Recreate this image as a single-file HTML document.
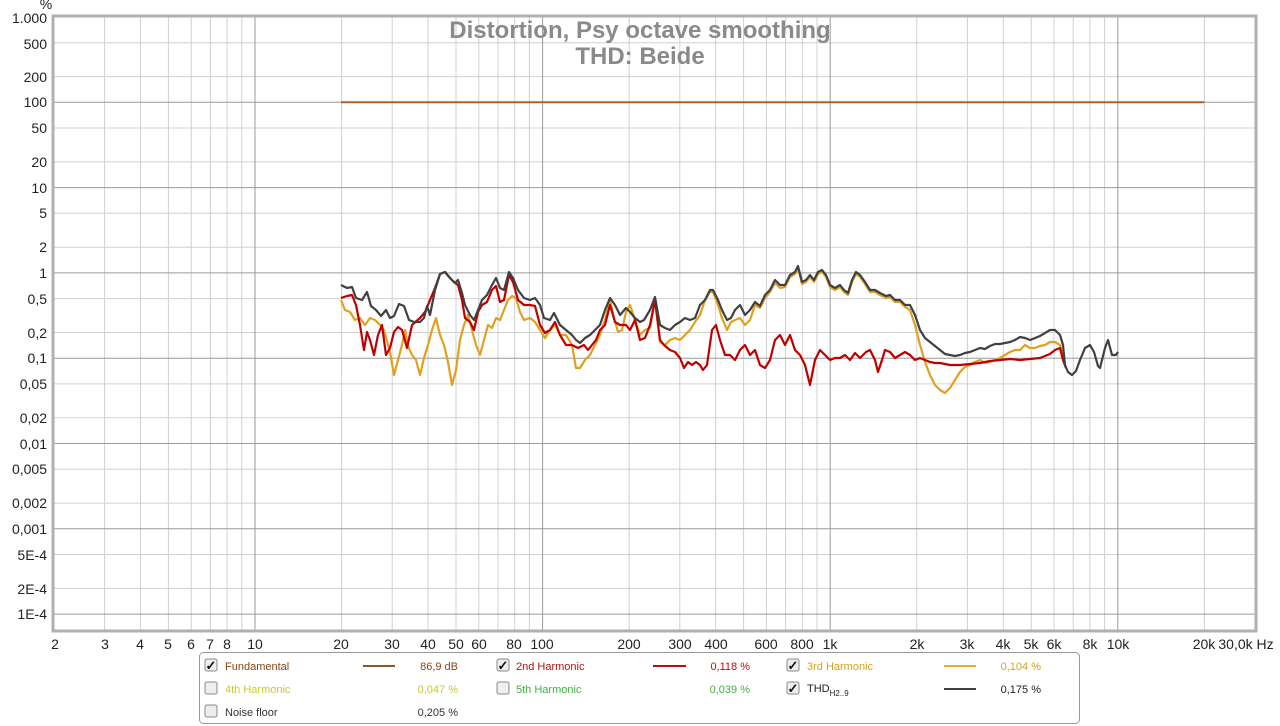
<!DOCTYPE html>
<html><head><meta charset="utf-8"><style>
html,body{margin:0;padding:0;background:#fff;}
svg{display:block;font-family:"Liberation Sans",Arial,sans-serif;}
</style></head><body>
<svg width="1280" height="726" viewBox="0 0 1280 726" xmlns="http://www.w3.org/2000/svg">
<rect width="1280" height="726" fill="#fff"/>
<g stroke="#d0d0d0" stroke-width="1">
<line x1="104.6" y1="17" x2="104.6" y2="630"/><line x1="140.5" y1="17" x2="140.5" y2="630"/><line x1="168.4" y1="17" x2="168.4" y2="630"/><line x1="191.2" y1="17" x2="191.2" y2="630"/><line x1="210.4" y1="17" x2="210.4" y2="630"/><line x1="227.1" y1="17" x2="227.1" y2="630"/><line x1="241.8" y1="17" x2="241.8" y2="630"/>
<line x1="341.6" y1="17" x2="341.6" y2="630"/><line x1="392.2" y1="17" x2="392.2" y2="630"/><line x1="428.1" y1="17" x2="428.1" y2="630"/><line x1="456" y1="17" x2="456" y2="630"/><line x1="478.8" y1="17" x2="478.8" y2="630"/><line x1="498" y1="17" x2="498" y2="630"/><line x1="514.7" y1="17" x2="514.7" y2="630"/><line x1="529.4" y1="17" x2="529.4" y2="630"/>
<line x1="629.2" y1="17" x2="629.2" y2="630"/><line x1="679.8" y1="17" x2="679.8" y2="630"/><line x1="715.7" y1="17" x2="715.7" y2="630"/><line x1="743.6" y1="17" x2="743.6" y2="630"/><line x1="766.4" y1="17" x2="766.4" y2="630"/><line x1="785.6" y1="17" x2="785.6" y2="630"/><line x1="802.3" y1="17" x2="802.3" y2="630"/><line x1="817" y1="17" x2="817" y2="630"/>
<line x1="916.8" y1="17" x2="916.8" y2="630"/><line x1="967.4" y1="17" x2="967.4" y2="630"/><line x1="1003.3" y1="17" x2="1003.3" y2="630"/><line x1="1031.2" y1="17" x2="1031.2" y2="630"/><line x1="1054" y1="17" x2="1054" y2="630"/><line x1="1073.2" y1="17" x2="1073.2" y2="630"/><line x1="1089.9" y1="17" x2="1089.9" y2="630"/><line x1="1104.6" y1="17" x2="1104.6" y2="630"/>
<line x1="1204.4" y1="17" x2="1204.4" y2="630"/>
<line x1="54" y1="42.7" x2="1255" y2="42.7"/><line x1="54" y1="76.6" x2="1255" y2="76.6"/>
<line x1="54" y1="128" x2="1255" y2="128"/><line x1="54" y1="161.9" x2="1255" y2="161.9"/>
<line x1="54" y1="213.3" x2="1255" y2="213.3"/><line x1="54" y1="247.2" x2="1255" y2="247.2"/>
<line x1="54" y1="298.6" x2="1255" y2="298.6"/><line x1="54" y1="332.5" x2="1255" y2="332.5"/>
<line x1="54" y1="383.9" x2="1255" y2="383.9"/><line x1="54" y1="417.8" x2="1255" y2="417.8"/>
<line x1="54" y1="469.2" x2="1255" y2="469.2"/><line x1="54" y1="503.1" x2="1255" y2="503.1"/>
<line x1="54" y1="554.5" x2="1255" y2="554.5"/><line x1="54" y1="588.4" x2="1255" y2="588.4"/>
</g>
<g stroke="#9a9a9a" stroke-width="1">
<line x1="255" y1="17" x2="255" y2="630"/><line x1="542.6" y1="17" x2="542.6" y2="630"/><line x1="830.2" y1="17" x2="830.2" y2="630"/><line x1="1117.8" y1="17" x2="1117.8" y2="630"/>
<line x1="54" y1="102.3" x2="1255" y2="102.3"/><line x1="54" y1="187.6" x2="1255" y2="187.6"/><line x1="54" y1="272.9" x2="1255" y2="272.9"/><line x1="54" y1="358.2" x2="1255" y2="358.2"/><line x1="54" y1="443.5" x2="1255" y2="443.5"/><line x1="54" y1="528.8" x2="1255" y2="528.8"/><line x1="54" y1="614.1" x2="1255" y2="614.1"/>
</g>
<rect x="53" y="16" width="1203" height="615" fill="none" stroke="#b0b0b0" stroke-width="3"/>
<text x="640" y="38" text-anchor="middle" font-size="24" font-weight="bold" fill="#8a8a8a">Distortion, Psy octave smoothing</text>
<text x="640" y="64" text-anchor="middle" font-size="24" font-weight="bold" fill="#8a8a8a">THD: Beide</text>
<g font-size="14" fill="#222" text-anchor="end">
<text x="46" y="9" text-anchor="middle">%</text>
<text x="47" y="23">1.000</text><text x="47" y="49">500</text><text x="47" y="82">200</text><text x="47" y="107">100</text>
<text x="47" y="133">50</text><text x="47" y="167">20</text><text x="47" y="193">10</text>
<text x="47" y="218">5</text><text x="47" y="252">2</text><text x="47" y="278">1</text>
<text x="47" y="304">0,5</text><text x="47" y="338">0,2</text><text x="47" y="363">0,1</text>
<text x="47" y="389">0,05</text><text x="47" y="423">0,02</text><text x="47" y="449">0,01</text>
<text x="47" y="474">0,005</text><text x="47" y="508">0,002</text><text x="47" y="534">0,001</text>
<text x="47" y="560">5E-4</text><text x="47" y="594">2E-4</text><text x="47" y="619">1E-4</text>
</g>
<g font-size="14" fill="#222" text-anchor="middle">
<text x="55" y="649">2</text><text x="105" y="649">3</text><text x="140" y="649">4</text><text x="168" y="649">5</text><text x="191" y="649">6</text><text x="210" y="649">7</text><text x="227" y="649">8</text><text x="255" y="649">10</text>
<text x="341" y="649">20</text><text x="392" y="649">30</text><text x="428" y="649">40</text><text x="456" y="649">50</text><text x="479" y="649">60</text><text x="514" y="649">80</text><text x="542" y="649">100</text>
<text x="629" y="649">200</text><text x="680" y="649">300</text><text x="716" y="649">400</text><text x="766" y="649">600</text><text x="802" y="649">800</text><text x="830" y="649">1k</text>
<text x="917" y="649">2k</text><text x="967" y="649">3k</text><text x="1003" y="649">4k</text><text x="1031" y="649">5k</text><text x="1054" y="649">6k</text><text x="1090" y="649">8k</text><text x="1118" y="649">10k</text>
<text x="1204" y="649">20k</text><text x="1246" y="649">30,0k Hz</text>
</g>
<line x1="341" y1="102.3" x2="1204" y2="102.3" stroke="#b0602a" stroke-width="2"/>
<g fill="none" stroke-width="2.2" stroke-linejoin="round">
<polyline stroke="#e0a020" points="341,300 345,310 350,312 355,320 360,318 365,325 370,318 375,320 380,325 384,330 390,352 394,375 398,360 402,345 405,330 408,346 412,355 416,360 420,375 424,358 428,345 432,330 436,318 440,335 444,345 448,362 452,385 456,370 460,340 464,325 468,315 472,330 476,345 480,355 484,340 488,325 492,328 496,318 500,320 504,310 508,300 512,296 516,298 520,312 524,320 530,318 535,322 540,330 545,338 550,330 555,325 560,335 566,335 572,345 576,368 580,368 585,360 590,355 595,345 600,335 605,320 610,300 614,318 618,332 622,330 626,312 630,305 635,320 640,335 645,330 650,328 655,300 660,342 665,345 670,340 675,338 680,340 685,335 690,330 695,322 700,315 705,300 710,292 713,292 718,305 722,318 727,330 731,322 735,320 740,318 745,325 750,320 755,305 760,308 765,298 770,292 775,283 780,288 785,287 790,277 795,274 798,268 802,284 806,282 810,277 814,282 818,274 822,272 826,277 830,287 835,290 840,287 844,292 848,295 852,282 856,274 860,277 865,284 870,292 875,292 880,295 886,298 890,297 895,302 900,302 905,307 910,310 915,325 920,345 925,362 930,375 935,385 940,390 945,393 950,388 955,380 960,372 965,367 970,365 975,362 980,360 985,363 990,362 995,360 1000,358 1005,355 1010,352 1015,350 1020,350 1025,345 1030,348 1035,348 1040,346 1045,345 1050,342 1055,342 1060,345 1063,355"/>
<polyline stroke="#c00000" points="341,298 347,296 352,295 356,305 360,325 364,350 367,332 370,340 374,355 378,335 382,325 386,355 390,348 394,332 398,327 402,330 407,348 412,325 420,318 425,312 430,300 435,288 440,274 445,272 450,278 455,283 458,285 462,300 465,318 470,322 474,330 478,312 482,305 487,302 492,290 496,286 500,302 504,300 509,275 513,282 518,300 524,305 530,305 535,306 540,325 545,333 550,330 555,322 560,335 566,345 572,345 578,348 584,345 588,350 592,345 596,340 600,330 605,325 610,305 615,322 620,325 626,325 630,330 635,320 640,340 645,338 650,325 655,300 660,340 664,345 670,350 675,352 680,358 684,368 688,362 692,365 696,362 700,365 703,370 707,365 712,330 716,325 720,340 725,355 730,355 735,360 740,350 745,345 750,355 755,350 760,365 765,368 770,360 775,340 780,335 785,345 790,335 795,350 800,355 805,365 810,385 815,360 820,350 825,355 830,360 835,358 840,358 845,355 850,360 855,353 860,358 866,352 870,350 875,360 878,372 882,360 885,350 890,352 895,358 900,355 905,352 910,355 915,360 920,358 925,360 930,362 935,363 940,363 950,365 960,365 970,364 980,363 990,361 1000,360 1010,359 1020,360 1030,359 1040,358 1050,354 1055,350 1060,348 1063,360 1066,368"/>
<polyline stroke="#404040" points="341,285 347,288 352,287 356,298 362,300 367,292 371,306 376,310 381,316 386,310 390,318 394,316 399,304 404,306 409,320 414,322 420,322 424,318 427,306 430,315 435,290 440,274 445,272 450,278 455,283 458,280 462,293 465,305 470,315 474,320 478,310 482,300 487,295 492,285 496,278 500,288 504,290 509,272 513,278 518,290 524,298 530,300 535,298 540,305 544,318 550,320 554,313 560,325 566,330 572,335 576,340 580,343 585,338 590,335 595,330 600,325 605,310 610,298 615,305 620,315 626,308 630,312 635,318 640,322 644,320 650,310 655,297 660,325 665,328 670,330 675,325 680,322 685,318 690,320 695,318 700,305 705,300 710,290 713,290 718,300 722,310 727,320 731,318 735,310 740,305 745,315 750,310 755,302 760,306 765,295 770,290 775,280 780,285 785,285 790,275 795,272 798,266 802,282 806,280 810,275 814,280 818,272 822,270 826,275 830,285 835,288 840,285 844,290 848,293 852,280 856,272 860,275 865,282 870,290 875,290 880,293 886,296 890,295 895,300 900,300 905,305 910,305 915,315 920,330 925,338 930,342 935,346 940,350 945,354 950,355 955,356 960,355 965,353 970,352 975,350 980,348 985,349 990,346 995,344 1000,344 1005,343 1010,342 1015,340 1020,337 1025,338 1030,340 1035,338 1040,336 1045,333 1050,330 1055,330 1060,335 1063,345 1065,365 1068,372 1072,375 1076,371 1080,360 1085,348 1090,345 1094,352 1098,366 1100,368 1105,348 1108,340 1112,355 1116,355 1118,352"/>
</g>
<rect x="199.5" y="652.5" width="880" height="71" rx="4" fill="#fff" stroke="#999"/>
<g stroke="#888" fill="#eee">
<rect x="205" y="659" width="12" height="12" rx="2"/><rect x="205" y="682" width="12" height="12" rx="2"/><rect x="205" y="705" width="12" height="12" rx="2"/>
<rect x="497" y="659" width="12" height="12" rx="2"/><rect x="497" y="682" width="12" height="12" rx="2"/>
<rect x="787" y="659" width="12" height="12" rx="2"/><rect x="787" y="682" width="12" height="12" rx="2"/>
</g>
<g font-size="13" font-weight="bold" fill="#111" text-anchor="middle">
<text x="211" y="670">✓</text><text x="503" y="670">✓</text><text x="793" y="670">✓</text><text x="793" y="693">✓</text>
</g>
<g font-size="11">
<text x="225" y="670" fill="#8b4513">Fundamental</text>
<text x="225" y="693" fill="#c8c832">4th Harmonic</text>
<text x="225" y="716" fill="#333">Noise floor</text>
<text x="516" y="670" fill="#b01010">2nd Harmonic</text>
<text x="516" y="693" fill="#40b040">5th Harmonic</text>
<text x="807" y="670" fill="#d4a020">3rd Harmonic</text>
<text x="807" y="692" fill="#222">THD<tspan font-size="8" dy="4">H2..9</tspan></text>
<text x="458" y="670" text-anchor="end" fill="#8b4513">86,9 dB</text>
<text x="458" y="693" text-anchor="end" fill="#c8c832">0,047 %</text>
<text x="458" y="716" text-anchor="end" fill="#333">0,205 %</text>
<text x="750" y="670" text-anchor="end" fill="#b01010">0,118 %</text>
<text x="750" y="693" text-anchor="end" fill="#40b040">0,039 %</text>
<text x="1041" y="670" text-anchor="end" fill="#d4a020">0,104 %</text>
<text x="1041" y="693" text-anchor="end" fill="#222">0,175 %</text>
</g>
<line x1="363" y1="666" x2="395" y2="666" stroke="#8b5a2b" stroke-width="2"/>
<line x1="653" y1="666" x2="686" y2="666" stroke="#b01010" stroke-width="2"/>
<line x1="944" y1="666" x2="976" y2="666" stroke="#e0b030" stroke-width="2"/>
<line x1="944" y1="689" x2="976" y2="689" stroke="#404040" stroke-width="2"/>
</svg>
</body></html>
